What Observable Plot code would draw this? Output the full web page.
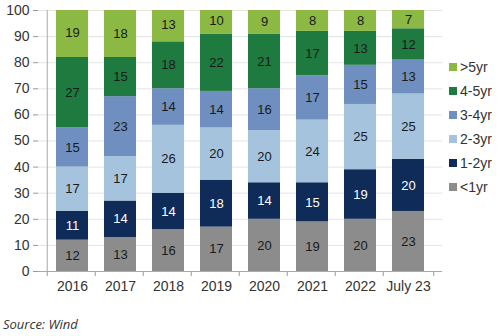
<!DOCTYPE html>
<html>
<head>
<meta charset="utf-8">
<script src="https://cdn.jsdelivr.net/npm/d3@7"></script>
<script src="https://cdn.jsdelivr.net/npm/@observablehq/plot@0.6"></script>
<style>
  html, body { margin: 0; padding: 0; background: #fff; }
  #wrap { position: relative; width: 500px; height: 336px; font-family: "Liberation Sans", Arial, sans-serif; }
  #legend { position: absolute; left: 449px; top: 55px; }
  .li { display: flex; align-items: center; height: 24px; font-size: 14px; color: #333; }
  .sw { width: 8px; height: 8px; margin-right: 3px; }
  #caption { position: absolute; left: 3px; top: 315px; font-family: "Open Sans", sans-serif; font-style: italic; font-size: 13px; color: #333; }
</style>
</head>
<body>
<div id="wrap">
  <div id="chart"></div>
  <div id="legend"></div>
  <div id="caption">Source: Wind</div>
</div>
<script>
const categories = ["2016", "2017", "2018", "2019", "2020", "2021", "2022", "July 23"];
const seriesNames = ["<1yr", "1-2yr", "2-3yr", "3-4yr", "4-5yr", ">5yr"];
const seriesColors = ["#8c8c8c", "#0f2b57", "#a5c3dd", "#6e8fc0", "#1f7a3f", "#8cb844"];
const lt1yr  = [12, 13, 16, 17, 20, 19, 20, 23];
const y1to2  = [11, 14, 14, 18, 14, 15, 19, 20];
const y2to3  = [17, 17, 26, 20, 20, 24, 25, 25];
const y3to4  = [15, 23, 14, 14, 16, 17, 15, 13];
const y4to5  = [27, 15, 18, 22, 21, 17, 13, 12];
const gt5yr  = [19, 18, 13, 10,  9,  8,  8,  7];
const yTicks = [0, 10, 20, 30, 40, 50, 60, 70, 80, 90, 100];

const seriesValues = [lt1yr, y1to2, y2to3, y3to4, y4to5, gt5yr];
const data = [];
seriesNames.forEach((s, i) => {
  categories.forEach((c, j) => {
    data.push({cat: c, series: s, value: seriesValues[i][j]});
  });
});

const step = (442 - 38) / categories.length;

const chart = Plot.plot({
  width: 500,
  height: 300,
  marginLeft: 38,
  marginRight: 58,
  marginTop: 10,
  marginBottom: 29,
  style: {fontFamily: "Liberation Sans, Arial, sans-serif", fontSize: "14px", color: "#333", background: "#fff"},
  x: {domain: categories, padding: 0.33, label: null},
  y: {domain: [0, 100], label: null},
  color: {domain: seriesNames, range: seriesColors},
  marks: [
    Plot.ruleY(yTicks.filter(d => d > 0), {stroke: "#e4e4e4", strokeWidth: 1}),
    Plot.barY(data, Plot.stackY({x: "cat", y: "value", fill: "series", order: seriesNames, clip: true})),
    Plot.text(data, Plot.stackY({
      x: "cat", y: "value", z: "series", order: seriesNames, text: "value",
      fill: d => d.series === "1-2yr" ? "#ffffff" : "#1a1a1a",
      fontSize: 13
    })),
    Plot.axisY({ticks: yTicks, tickSize: 5, tickPadding: 4, stroke: "#999", fill: "#333", fontSize: 14, label: null}),
    Plot.ruleX([0], {}) && Plot.axisX({tickSize: 0, tickPadding: 10, fill: "#333", fontSize: 14, label: null}),
    Plot.axisX({tickSize: 5, text: null, dx: -step / 2, stroke: "#999", label: null}),
    Plot.axisX([categories[categories.length - 1]], {tickSize: 5, text: null, dx: step / 2, stroke: "#999", label: null}),
    Plot.ruleY([0], {stroke: "#aaa"}),
    Plot.ruleX([categories[0]], {dx: -step / 2, stroke: "#aaa", y1: 0, y2: 100})
  ]
});
document.getElementById("chart").appendChild(chart);

const legend = document.getElementById("legend");
for (let i = seriesNames.length - 1; i >= 0; i--) {
  const row = document.createElement("div");
  row.className = "li";
  const sw = document.createElement("span");
  sw.className = "sw";
  sw.style.background = seriesColors[i];
  const t = document.createElement("span");
  t.textContent = seriesNames[i];
  row.appendChild(sw);
  row.appendChild(t);
  legend.appendChild(row);
}
</script>
</body>
</html>
